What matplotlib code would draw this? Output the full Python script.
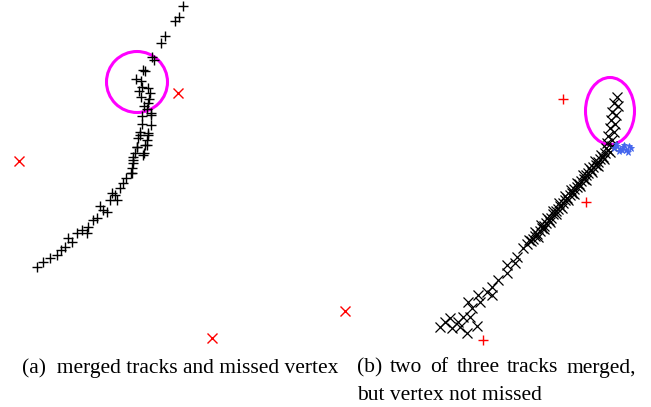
import matplotlib.pyplot as plt
from matplotlib.patches import Ellipse

# panel (a): merged track points (black +), in picture coordinates
a_x = [183, 179, 175, 165, 161, 152, 154, 143, 145, 136, 141, 142, 148, 139, 150,
       141, 149, 144, 147, 142, 151, 148, 151, 142, 151, 140, 148, 138, 147, 137,
       145, 135, 144, 133, 132, 131, 140, 148, 147, 137, 143, 133, 133, 132, 123,
       120, 115, 110, 117, 103, 107, 97, 88, 77, 87, 72, 65, 57, 50, 43, 37,
       126, 112, 100, 93, 82, 68, 61]
a_y = [6, 17, 21, 36, 43, 57, 60, 70, 71, 79, 81, 87, 88, 91, 93,
       97, 99, 106, 109, 116, 113, 103, 115, 124, 125, 132, 133, 138, 140, 147,
       145, 153, 153, 160, 168, 173, 135, 135, 145, 147, 155, 157, 163, 173, 183,
       188, 195, 200, 200, 210, 212, 218, 227, 233, 233, 242, 247, 255, 258, 262, 267,
       178, 193, 206, 220, 230, 238, 250]

# panel (a): missed vertices (red x)
a_miss_x = [178, 19, 212, 345]
a_miss_y = [93, 161, 338, 311]

# panel (b): track points (black x)
b_x = [617, 614, 618, 612, 616, 611, 615, 610, 614, 608, 612, 607,
       612, 608, 605, 603, 600, 598, 596, 593, 591, 588, 586, 584, 581, 579, 577,
       574, 572, 570, 567, 565, 563, 560, 558, 556, 553, 551, 549, 546, 544, 542,
       540, 537, 535, 533, 531,
       606, 601, 595, 589, 583, 577, 571, 565, 559, 553, 547, 541, 535, 529,
       610, 604, 598, 592, 586, 580, 574, 568, 562, 556, 550, 544, 538,
       527, 523, 517, 507, 515, 507, 498, 492, 487, 492, 478, 480, 468, 472,
       463, 470, 477, 450, 440, 452, 460, 467, 458, 445]
b_y = [97, 103, 106, 112, 115, 120, 124, 128, 132, 136, 140, 143,
       146, 150, 153, 157, 159, 162, 165, 167, 170, 173, 175, 179, 181, 184, 187,
       189, 193, 195, 198, 200, 203, 206, 209, 211, 214, 218, 220, 223, 226, 228,
       231, 234, 236, 239, 241,
       148, 155, 161, 168, 175, 183, 190, 196, 203, 211, 218, 225, 232, 240,
       152, 159, 166, 172, 180, 186, 194, 200, 208, 214, 222, 229, 237,
       244, 248, 257, 265, 263, 273, 280, 287, 292, 295, 295, 302, 302, 308,
       317, 317, 326, 318, 327, 328, 327, 333, 322, 322]

# panel (b): vertex candidates (blue *)
b_vtx_x = [614, 617, 620, 623, 626, 629, 631, 619, 624, 628, 616, 622]
b_vtx_y = [148, 146, 149, 147, 150, 146, 148, 151, 145, 152, 144, 150]

# panel (b): missed vertices (red +)
b_miss_x = [563, 586, 483]
b_miss_y = [99, 202, 340]

caption_a = "(a)  merged tracks and missed vertex"
caption_b1 = ["(b)", "two", "of", "three", "tracks", "merged,"]
caption_b2 = "but vertex not missed"

fig = plt.figure(figsize=(6.51, 4.07), dpi=100)
ax = fig.add_axes([0, 0, 1, 1])
ax.set_xlim(0, 651)
ax.set_ylim(407, 0)
ax.axis("off")

ax.plot(a_x, a_y, "+", color="black", markersize=7.5, mew=1.0, linestyle="none")
ax.plot(a_miss_x, a_miss_y, "x", color="red", markersize=6.5, mew=1.0, linestyle="none")
ax.add_patch(Ellipse((137, 82), 61, 61, fill=False, edgecolor="#ff00ff", lw=2.2))

ax.plot(b_x, b_y, "x", color="black", markersize=6.5, mew=0.9, linestyle="none")
ax.plot(b_vtx_x, b_vtx_y, "*", color="#4466ee", markersize=5, mew=0.6, linestyle="none")
ax.plot(b_miss_x, b_miss_y, "+", color="red", markersize=6.5, mew=1.0, linestyle="none")
ax.add_patch(Ellipse((610, 111), 49, 67, fill=False, edgecolor="#ff00ff", lw=2.2))

# captions
font = {"family": "Liberation Serif", "size": 15.5}
ax.text(22, 368, caption_a, va="center", ha="left", **font)
ax.text(357, 396, caption_b2, va="center", ha="left", **font)

# justified first line of caption (b)
renderer = fig.canvas.get_renderer()
words = [ax.text(0, 368, w, va="center", ha="left", **font) for w in caption_b1]
widths = [w.get_window_extent(renderer).width for w in words]
left, right = 357, 636
gap = (right - left - sum(widths)) / (len(words) - 1)
x = left
for t, wd in zip(words, widths):
    t.set_x(x)
    x += wd + gap

fig.savefig("out.png", dpi=100)
